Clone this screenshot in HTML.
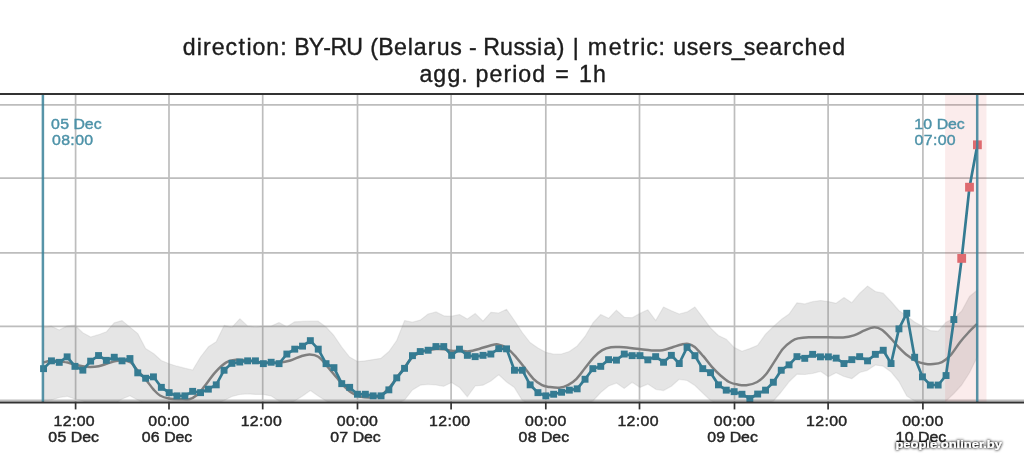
<!DOCTYPE html>
<html><head><meta charset="utf-8"><title>chart</title>
<style>html,body{margin:0;padding:0;background:#fff}body{width:1024px;height:466px;overflow:hidden}svg{display:block}text{font-family:"Liberation Sans",sans-serif}</style>
</head><body>
<svg width="1024" height="466" viewBox="0 0 1024 466">
<defs><clipPath id="ax"><rect x="0" y="94" width="1024" height="308.6"/></clipPath>
<filter id="glow" x="-10%" y="-60%" width="120%" height="220%"><feGaussianBlur in="SourceAlpha" stdDeviation="1.7" result="b"/><feComponentTransfer in="b" result="s"><feFuncA type="linear" slope="1.6"/></feComponentTransfer><feMerge><feMergeNode in="s"/><feMergeNode in="SourceGraphic"/></feMerge></filter></defs>
<rect width="1024" height="466" fill="#fff"/>
<g stroke="#bdbdbd" stroke-width="1.7" clip-path="url(#ax)">
<line x1="75.6" y1="94" x2="75.6" y2="402.6"/>
<line x1="169" y1="94" x2="169" y2="402.6"/>
<line x1="262.7" y1="94" x2="262.7" y2="402.6"/>
<line x1="357.5" y1="94" x2="357.5" y2="402.6"/>
<line x1="451.1" y1="94" x2="451.1" y2="402.6"/>
<line x1="545.8" y1="94" x2="545.8" y2="402.6"/>
<line x1="639.5" y1="94" x2="639.5" y2="402.6"/>
<line x1="734.5" y1="94" x2="734.5" y2="402.6"/>
<line x1="828.1" y1="94" x2="828.1" y2="402.6"/>
<line x1="922.9" y1="94" x2="922.9" y2="402.6"/>
<line x1="0" y1="104.8" x2="1024" y2="104.8"/>
<line x1="0" y1="178.2" x2="1024" y2="178.2"/>
<line x1="0" y1="252.8" x2="1024" y2="252.8"/>
<line x1="0" y1="326.4" x2="1024" y2="326.4"/>
<line x1="0" y1="400.3" x2="1024" y2="400.3"/>
</g>
<g clip-path="url(#ax)">
<polygon points="43.6,327.3 51.4,326.2 59.3,330 67.1,325.9 75,325.2 82.8,332.7 90.7,337 98.5,334.7 106.4,331.8 114.2,322.8 122.1,320.6 129.9,327.1 137.8,333.6 145.6,348.5 153.5,353.5 161.3,360.5 169.2,363.7 177,366.2 184.8,368.2 192.7,370 200.5,357 208.4,346.8 216.2,341.8 224.1,325.4 231.9,327.3 239.8,318.8 247.6,325.9 255.5,327.2 263.3,326.1 271.2,326.1 279,322.5 286.9,326.8 294.7,321.8 302.6,321.4 310.4,321.2 318.2,321.2 326.1,327 333.9,335.5 341.8,347.2 349.6,357 357.5,361.6 365.3,360.8 373.2,359.6 381,358.3 388.9,351.5 396.7,340.5 404.6,320.5 412.4,322.2 420.3,320.1 428.1,314 436,311.9 443.8,315.8 451.6,316.2 459.5,314.5 467.3,319 475.2,313.4 483,321.1 490.9,312.3 498.7,313 506.6,309.3 514.4,320.5 522.3,332.5 530.1,342.5 538,348 545.8,352.3 553.7,354.2 561.5,354 569.3,351.5 577.2,346 585,336.5 592.9,323 600.7,314.5 608.6,318.3 616.4,310.2 624.3,317.3 632.1,317.7 640,313.4 647.8,309.8 655.7,320.5 663.5,307 671.4,310.8 679.2,314 687.1,311.9 694.9,307 702.7,317.3 710.6,328 718.4,335.5 726.3,339.2 734.1,347.4 742,351.2 749.8,348.6 757.7,345.2 765.5,334.2 773.4,326.5 781.2,319.6 789.1,314 796.9,302.8 804.8,303.9 812.6,301.7 820.5,300.5 828.3,301.6 836.1,303.3 844,297.5 851.8,302.7 859.7,293.2 867.5,286.1 875.4,291.5 883.2,293.2 891.1,301.5 898.9,310.5 906.8,316 914.6,322 922.5,326.2 930.3,330.6 938.2,331.2 946,322.2 953.9,318.4 961.7,311 969.5,296.5 977.4,290 977.4,356.7 969.5,372.8 961.7,385 953.9,393.5 946,401 938.2,404 930.3,404 922.5,404 914.6,401 906.8,396 898.9,381.5 891.1,372 883.2,366.2 875.4,365 867.5,370.3 859.7,372.5 851.8,378.7 844,376.5 836.1,372.7 828.3,376.8 820.5,371.3 812.6,373.5 804.8,374.5 796.9,374.2 789.1,381.8 781.2,392 773.4,401 765.5,404 757.7,404 749.8,404 742,404 734.1,404 726.3,404 718.4,404 710.6,400.5 702.7,393 694.9,385.5 687.1,380.5 679.2,379.3 671.4,386.3 663.5,390.6 655.7,389.3 647.8,384.1 640,387.4 632.1,382.2 624.3,388.4 616.4,383.1 608.6,386 600.7,392.5 592.9,401 585,404 577.2,404 569.3,404 561.5,404 553.7,404 545.8,404 538,404 530.1,404 522.3,400.5 514.4,387.6 506.6,382 498.7,374.8 490.9,381 483,385.2 475.2,386 467.3,396.8 459.5,387.4 451.6,382.5 443.8,386.3 436,385 428.1,384.3 420.3,385.2 412.4,390 404.6,400 396.7,404 388.9,404 381,404 373.2,404 365.3,404 357.5,404 349.6,404 341.8,404 333.9,404 326.1,401 318.2,396 310.4,390.6 302.6,396 294.7,401 286.9,404 279,401 271.2,396 263.3,394.4 255.5,394.4 247.6,393.8 239.8,394.5 231.9,396.5 224.1,400.5 216.2,404 208.4,404 200.5,404 192.7,404 184.8,404 177,404 169.2,404 161.3,404 153.5,404 145.6,404 137.8,400 129.9,395.7 122.1,399 114.2,404 106.4,404 98.5,404 90.7,404 82.8,401 75,399 67.1,396.3 59.3,397.5 51.4,400 43.6,401" fill="#808080" fill-opacity="0.205" stroke="#9a9a9a" stroke-opacity="0.18" stroke-width="1.2" stroke-linejoin="round"/>
<rect x="945.1" y="94" width="41.4" height="308.6" fill="#d62728" fill-opacity="0.09"/>
<path d="M43.3,362.6 C44.7,362.2 48.7,360.6 51.5,360.4 C54.3,360.2 57.3,361.1 60,361.5 C62.7,361.9 65.1,362.1 67.6,362.6 C70.1,363.1 72.6,364.1 75.1,364.7 C77.6,365.3 80.1,365.8 82.6,366.2 C85.1,366.6 87.4,366.9 90.1,366.9 C92.8,366.9 95.8,366.8 98.7,366.2 C101.6,365.6 104.5,364.5 107.3,363.6 C110.1,362.8 112.9,361.6 115.8,361.1 C118.7,360.6 121.9,360.1 124.4,360.4 C126.9,360.6 128.8,361 130.9,362.6 C133.1,364.2 134.8,367.2 137.3,370.1 C139.8,373 143.2,376.5 145.9,379.7 C148.6,382.9 151.1,386.8 153.4,389.4 C155.8,392 157.4,394 160,395.5 C162.6,397 165.7,397.9 169,398.5 C172.3,399.1 176.6,399.1 180,399.2 C183.4,399.3 186.6,399.9 189.4,399.2 C192.2,398.5 194.5,397.1 197,395 C199.5,392.9 201.5,390.1 204.5,386.3 C207.5,382.5 211.6,376.2 215.2,372.3 C218.8,368.4 222.3,364.7 225.9,362.6 C229.5,360.5 233.1,360.2 236.7,359.8 C240.3,359.4 243.1,360 247.4,360.5 C251.7,361 257.1,362.2 262.5,362.6 C267.9,363 275.1,363 279.7,362.6 C284.3,362.2 286.8,361.6 290.4,360.5 C294,359.4 298,357.2 301.2,356.2 C304.4,355.2 306.8,354.4 309.7,354.5 C312.6,354.6 315.4,354.9 318.3,356.8 C321.2,358.7 323.7,362.2 326.9,365.9 C330.1,369.6 334.7,375.3 337.7,378.8 C340.7,382.3 342.6,384.6 345,387 C347.4,389.4 349.5,391.4 352,393 C354.5,394.6 357,395.8 360,396.5 C363,397.2 366.7,397.6 370,397.5 C373.3,397.4 377,397.4 380,396 C383,394.6 385.2,392 388,389 C390.8,386 393.8,381.6 396.5,378 C399.2,374.4 401.8,370.9 404.4,367.5 C407,364.1 409.6,360 412.2,357.5 C414.8,355 417.4,353.7 420,352.5 C422.6,351.3 425.3,350.9 428,350.3 C430.7,349.7 433.3,349.2 436,349 C438.7,348.8 441.5,348.9 444,349.2 C446.5,349.5 448.3,350.5 451,350.8 C453.7,351.1 457.3,350.7 460.3,350.8 C463.3,350.9 465.8,351.7 469,351.3 C472.2,350.9 476.1,349.7 479.7,348.7 C483.3,347.7 487.3,346.2 490.4,345.5 C493.4,344.8 495.1,343.9 498,344.4 C500.9,344.9 504.6,346.5 507.6,348.7 C510.6,350.9 513.3,354.1 516.2,357.3 C519.1,360.5 521.9,364.4 524.8,368 C527.7,371.6 530.5,375.9 533.4,378.8 C536.3,381.7 539.5,383.9 542,385.2 C544.5,386.5 545.7,386.5 548.6,386.9 C551.5,387.3 556.1,388.1 559.3,387.8 C562.5,387.5 565,386.7 567.9,385.2 C570.8,383.7 573.6,381.7 576.5,378.8 C579.4,375.9 582.2,371.6 585.1,368 C588,364.4 590.8,360.3 593.7,357.3 C596.6,354.3 599.4,351.9 602.3,350.2 C605.2,348.5 608,347.7 610.9,347.2 C613.8,346.7 616.3,346.9 619.5,347 C622.7,347.1 626.9,347.6 630.2,348 C633.5,348.4 635.9,348.7 639.5,349.1 C643.1,349.5 647.9,350.2 651.7,350.4 C655.5,350.6 658.9,350.8 662.5,350.2 C666.1,349.6 670,348 673.2,347 C676.4,346 679.3,344.9 681.8,344.4 C684.3,343.9 686.1,343.5 688.3,343.9 C690.4,344.3 692.2,344.9 694.7,347 C697.2,349.1 700.4,352.9 703.3,356.2 C706.2,359.5 709,363.7 711.9,366.9 C714.8,370.1 717.6,373 720.5,375.5 C723.4,378 726.2,380.5 729.1,382 C732,383.5 734.8,384.1 737.7,384.6 C740.6,385.1 743,385.6 746.3,385.2 C749.5,384.8 754,383.8 757.2,382 C760.5,380.2 762.9,377.9 765.8,374.5 C768.7,371.1 771.5,365.9 774.4,361.6 C777.3,357.3 780.1,352.1 783,348.7 C785.9,345.3 789.1,342.9 791.6,341.2 C794.1,339.5 795.1,339 798,338.4 C800.9,337.8 803.8,337.5 808.8,337.3 C813.8,337.1 822.4,337.3 828.1,337.3 C833.8,337.3 838.8,337.8 843.1,337.5 C847.4,337.2 850.3,336.6 853.9,335.4 C857.5,334.2 861.2,331.8 864.6,330.4 C868,329 871.4,327.3 874.3,327.2 C877.2,327.1 879.1,328 881.8,329.8 C884.5,331.6 887.5,334.9 890.4,337.9 C893.3,340.9 896.1,344.7 899,347.6 C901.9,350.6 904.7,353.4 907.6,355.6 C910.5,357.9 913.3,359.8 916.2,361.1 C919.1,362.5 921.9,363.2 924.8,363.7 C927.7,364.2 930.5,364.4 933.4,364.1 C936.3,363.9 939.1,363.7 942,362.2 C944.9,360.7 947.6,358.4 950.6,355.1 C953.6,351.8 957.1,345.9 960,342.2 C962.9,338.5 965.2,336 968,333 C970.8,330 975.5,325.5 977,324" fill="none" stroke="#7f7f7f" stroke-width="2.5" stroke-linejoin="round" stroke-linecap="butt"/>
<polyline points="43.6,368.6 51.4,360.8 59.3,362.4 67.1,356.9 75,366.4 82.8,370.1 90.7,361.1 98.5,355.5 106.4,360.4 114.2,357.2 122.1,360.9 129.9,358.5 137.8,372.9 145.6,378.2 153.5,376.8 161.3,387.3 169.2,392.7 177,395.9 184.8,395.9 192.7,391.4 200.5,392.7 208.4,389.1 216.2,384.8 224.1,370.2 231.9,363.3 239.8,362 247.6,360.9 255.5,360.9 263.3,363.7 271.2,362.2 279,363.7 286.9,354 294.7,349.1 302.6,346.1 310.4,340.7 318.2,349.1 326.1,363.7 333.9,367.6 341.8,383.7 349.6,387.4 357.5,394.2 365.3,394.2 373.2,395.9 381,395.9 388.9,389.9 396.7,377.9 404.6,368.4 412.4,355.6 420.3,351.5 428.1,350.2 436,346.5 443.8,346.5 451.6,355.3 459.5,349.1 467.3,355.3 475.2,356.6 483,355.3 490.9,354 498.7,348.7 506.6,348.9 514.4,370.2 522.3,370.2 530.1,384.8 538,392.7 545.8,395.9 553.7,394.2 561.5,392.2 569.3,390.1 577.2,388.9 585,379.2 592.9,368.7 600.7,366.3 608.6,359.6 616.4,360.1 624.3,354 632.1,355.6 640,355.6 647.8,359.8 655.7,356.6 663.5,362.2 671.4,355.3 679.2,363.5 687.1,347.4 694.9,355.6 702.7,368.7 710.6,372.7 718.4,384.8 726.3,390.1 734.1,391.7 742,394.2 749.8,398.5 757.7,394 765.5,390.1 773.4,382.2 781.2,370.2 789.1,364.8 796.9,356.6 804.8,358.3 812.6,354.3 820.5,356.8 828.3,356.8 836.1,358.1 844,363.5 851.8,359.6 859.7,356.6 867.5,360.9 875.4,354.3 883.2,350.2 891.1,363.5 898.9,328.9 906.8,313.2 914.6,357.2 922.5,376.9 930.3,385 938.2,385 946,375.5 953.9,319.5 961.7,258.4 969.5,187.2 977.4,144.8" fill="none" stroke="#357b92" stroke-width="2.7" stroke-linejoin="round"/>
<g fill="#357b92">
<rect x="40.1" y="365.2" width="6.9" height="6.9"/>
<rect x="48" y="357.4" width="6.9" height="6.9"/>
<rect x="55.8" y="358.9" width="6.9" height="6.9"/>
<rect x="63.7" y="353.4" width="6.9" height="6.9"/>
<rect x="71.5" y="362.9" width="6.9" height="6.9"/>
<rect x="79.4" y="366.7" width="6.9" height="6.9"/>
<rect x="87.2" y="357.7" width="6.9" height="6.9"/>
<rect x="95.1" y="352.1" width="6.9" height="6.9"/>
<rect x="102.9" y="356.9" width="6.9" height="6.9"/>
<rect x="110.8" y="353.8" width="6.9" height="6.9"/>
<rect x="118.6" y="357.4" width="6.9" height="6.9"/>
<rect x="126.5" y="355.1" width="6.9" height="6.9"/>
<rect x="134.3" y="369.4" width="6.9" height="6.9"/>
<rect x="142.2" y="374.8" width="6.9" height="6.9"/>
<rect x="150" y="373.4" width="6.9" height="6.9"/>
<rect x="157.9" y="383.9" width="6.9" height="6.9"/>
<rect x="165.7" y="389.2" width="6.9" height="6.9"/>
<rect x="173.5" y="392.4" width="6.9" height="6.9"/>
<rect x="181.4" y="392.4" width="6.9" height="6.9"/>
<rect x="189.2" y="387.9" width="6.9" height="6.9"/>
<rect x="197.1" y="389.2" width="6.9" height="6.9"/>
<rect x="204.9" y="385.7" width="6.9" height="6.9"/>
<rect x="212.8" y="381.4" width="6.9" height="6.9"/>
<rect x="220.6" y="366.8" width="6.9" height="6.9"/>
<rect x="228.5" y="359.9" width="6.9" height="6.9"/>
<rect x="236.3" y="358.6" width="6.9" height="6.9"/>
<rect x="244.2" y="357.4" width="6.9" height="6.9"/>
<rect x="252" y="357.4" width="6.9" height="6.9"/>
<rect x="259.9" y="360.2" width="6.9" height="6.9"/>
<rect x="267.7" y="358.8" width="6.9" height="6.9"/>
<rect x="275.6" y="360.2" width="6.9" height="6.9"/>
<rect x="283.4" y="350.6" width="6.9" height="6.9"/>
<rect x="291.3" y="345.7" width="6.9" height="6.9"/>
<rect x="299.1" y="342.7" width="6.9" height="6.9"/>
<rect x="306.9" y="337.2" width="6.9" height="6.9"/>
<rect x="314.8" y="345.7" width="6.9" height="6.9"/>
<rect x="322.6" y="360.2" width="6.9" height="6.9"/>
<rect x="330.5" y="364.2" width="6.9" height="6.9"/>
<rect x="338.3" y="380.2" width="6.9" height="6.9"/>
<rect x="346.2" y="383.9" width="6.9" height="6.9"/>
<rect x="354" y="390.8" width="6.9" height="6.9"/>
<rect x="361.9" y="390.8" width="6.9" height="6.9"/>
<rect x="369.7" y="392.4" width="6.9" height="6.9"/>
<rect x="377.6" y="392.4" width="6.9" height="6.9"/>
<rect x="385.4" y="386.4" width="6.9" height="6.9"/>
<rect x="393.3" y="374.4" width="6.9" height="6.9"/>
<rect x="401.1" y="364.9" width="6.9" height="6.9"/>
<rect x="409" y="352.2" width="6.9" height="6.9"/>
<rect x="416.8" y="348.1" width="6.9" height="6.9"/>
<rect x="424.7" y="346.8" width="6.9" height="6.9"/>
<rect x="432.5" y="343.1" width="6.9" height="6.9"/>
<rect x="440.3" y="343.1" width="6.9" height="6.9"/>
<rect x="448.2" y="351.9" width="6.9" height="6.9"/>
<rect x="456" y="345.7" width="6.9" height="6.9"/>
<rect x="463.9" y="351.9" width="6.9" height="6.9"/>
<rect x="471.7" y="353.2" width="6.9" height="6.9"/>
<rect x="479.6" y="351.9" width="6.9" height="6.9"/>
<rect x="487.4" y="350.6" width="6.9" height="6.9"/>
<rect x="495.3" y="345.2" width="6.9" height="6.9"/>
<rect x="503.1" y="345.4" width="6.9" height="6.9"/>
<rect x="511" y="366.8" width="6.9" height="6.9"/>
<rect x="518.8" y="366.8" width="6.9" height="6.9"/>
<rect x="526.7" y="381.4" width="6.9" height="6.9"/>
<rect x="534.5" y="389.2" width="6.9" height="6.9"/>
<rect x="542.4" y="392.4" width="6.9" height="6.9"/>
<rect x="550.2" y="390.8" width="6.9" height="6.9"/>
<rect x="558.1" y="388.8" width="6.9" height="6.9"/>
<rect x="565.9" y="386.7" width="6.9" height="6.9"/>
<rect x="573.7" y="385.4" width="6.9" height="6.9"/>
<rect x="581.6" y="375.8" width="6.9" height="6.9"/>
<rect x="589.4" y="365.2" width="6.9" height="6.9"/>
<rect x="597.3" y="362.9" width="6.9" height="6.9"/>
<rect x="605.1" y="356.2" width="6.9" height="6.9"/>
<rect x="613" y="356.7" width="6.9" height="6.9"/>
<rect x="620.8" y="350.6" width="6.9" height="6.9"/>
<rect x="628.7" y="352.2" width="6.9" height="6.9"/>
<rect x="636.5" y="352.2" width="6.9" height="6.9"/>
<rect x="644.4" y="356.4" width="6.9" height="6.9"/>
<rect x="652.2" y="353.2" width="6.9" height="6.9"/>
<rect x="660.1" y="358.8" width="6.9" height="6.9"/>
<rect x="667.9" y="351.9" width="6.9" height="6.9"/>
<rect x="675.8" y="360.1" width="6.9" height="6.9"/>
<rect x="683.6" y="343.9" width="6.9" height="6.9"/>
<rect x="691.5" y="352.2" width="6.9" height="6.9"/>
<rect x="699.3" y="365.2" width="6.9" height="6.9"/>
<rect x="707.1" y="369.2" width="6.9" height="6.9"/>
<rect x="715" y="381.4" width="6.9" height="6.9"/>
<rect x="722.8" y="386.7" width="6.9" height="6.9"/>
<rect x="730.7" y="388.2" width="6.9" height="6.9"/>
<rect x="738.5" y="390.8" width="6.9" height="6.9"/>
<rect x="746.4" y="395.1" width="6.9" height="6.9"/>
<rect x="754.2" y="390.6" width="6.9" height="6.9"/>
<rect x="762.1" y="386.7" width="6.9" height="6.9"/>
<rect x="769.9" y="378.8" width="6.9" height="6.9"/>
<rect x="777.8" y="366.8" width="6.9" height="6.9"/>
<rect x="785.6" y="361.4" width="6.9" height="6.9"/>
<rect x="793.5" y="353.2" width="6.9" height="6.9"/>
<rect x="801.3" y="354.9" width="6.9" height="6.9"/>
<rect x="809.2" y="350.9" width="6.9" height="6.9"/>
<rect x="817" y="353.4" width="6.9" height="6.9"/>
<rect x="824.9" y="353.4" width="6.9" height="6.9"/>
<rect x="832.7" y="354.7" width="6.9" height="6.9"/>
<rect x="840.5" y="360.1" width="6.9" height="6.9"/>
<rect x="848.4" y="356.2" width="6.9" height="6.9"/>
<rect x="856.2" y="353.2" width="6.9" height="6.9"/>
<rect x="864.1" y="357.4" width="6.9" height="6.9"/>
<rect x="871.9" y="350.9" width="6.9" height="6.9"/>
<rect x="879.8" y="346.8" width="6.9" height="6.9"/>
<rect x="887.6" y="360.1" width="6.9" height="6.9"/>
<rect x="895.5" y="325.4" width="6.9" height="6.9"/>
<rect x="903.3" y="309.8" width="6.9" height="6.9"/>
<rect x="911.2" y="353.8" width="6.9" height="6.9"/>
<rect x="919" y="373.4" width="6.9" height="6.9"/>
<rect x="926.9" y="381.6" width="6.9" height="6.9"/>
<rect x="934.7" y="381.6" width="6.9" height="6.9"/>
<rect x="942.6" y="372.1" width="6.9" height="6.9"/>
<rect x="950.4" y="316.1" width="6.9" height="6.9"/>
</g>
<g fill="#de6a6f">
<rect x="957.3" y="254" width="8.8" height="8.8"/>
<rect x="965.1" y="182.8" width="8.8" height="8.8"/>
<rect x="973" y="140.4" width="8.8" height="8.8"/>
</g>
<line x1="42.9" y1="94" x2="42.9" y2="402.6" stroke="#3a8199" stroke-opacity="0.85" stroke-width="2.5"/>
<line x1="977.2" y1="94" x2="977.2" y2="402.6" stroke="#3a8199" stroke-opacity="0.85" stroke-width="2.5"/>
</g>
<line x1="0" y1="94" x2="1024" y2="94" stroke="#333" stroke-width="2"/>
<line x1="0" y1="402.6" x2="1024" y2="402.6" stroke="#333" stroke-width="2"/>
<g stroke="#333" stroke-width="1.7">
<line x1="75.6" y1="402.6" x2="75.6" y2="409.4"/>
<line x1="169" y1="402.6" x2="169" y2="409.4"/>
<line x1="262.7" y1="402.6" x2="262.7" y2="409.4"/>
<line x1="357.5" y1="402.6" x2="357.5" y2="409.4"/>
<line x1="451.1" y1="402.6" x2="451.1" y2="409.4"/>
<line x1="545.8" y1="402.6" x2="545.8" y2="409.4"/>
<line x1="639.5" y1="402.6" x2="639.5" y2="409.4"/>
<line x1="734.5" y1="402.6" x2="734.5" y2="409.4"/>
<line x1="828.1" y1="402.6" x2="828.1" y2="409.4"/>
<line x1="922.9" y1="402.6" x2="922.9" y2="409.4"/>
</g>
<g fill="#262626" stroke="#262626" stroke-width="0.45" opacity="0.999">
<text x="49.61 58.08 66.61 71.04 79.52" y="425.9" font-size="14.7" transform="scale(1.08,1)">12:00</text>
<text x="44.74 53.22 61.62 65.60 76.06 84.24" y="441.9" font-size="14.7" transform="scale(1.08,1)">05 Dec</text>
<text x="137.34 145.81 154.34 158.77 167.24" y="425.9" font-size="14.7" transform="scale(1.08,1)">00:00</text>
<text x="131.23 139.70 148.10 152.08 162.55 170.72" y="441.9" font-size="14.7" transform="scale(1.08,1)">06 Dec</text>
<text x="222.85 231.32 239.85 244.28 252.76" y="425.9" font-size="14.7" transform="scale(1.08,1)">12:00</text>
<text x="311.87 320.35 328.88 333.31 341.78" y="425.9" font-size="14.7" transform="scale(1.08,1)">00:00</text>
<text x="305.76 314.24 322.64 326.62 337.08 345.26" y="441.9" font-size="14.7" transform="scale(1.08,1)">07 Dec</text>
<text x="397.29 405.77 414.30 418.73 427.20" y="425.9" font-size="14.7" transform="scale(1.08,1)">12:00</text>
<text x="486.23 494.70 503.23 507.66 516.13" y="425.9" font-size="14.7" transform="scale(1.08,1)">00:00</text>
<text x="480.12 488.59 496.99 500.97 511.43 519.61" y="441.9" font-size="14.7" transform="scale(1.08,1)">08 Dec</text>
<text x="571.74 580.21 588.74 593.17 601.64" y="425.9" font-size="14.7" transform="scale(1.08,1)">12:00</text>
<text x="660.95 669.42 677.95 682.38 690.86" y="425.9" font-size="14.7" transform="scale(1.08,1)">00:00</text>
<text x="654.84 663.31 671.71 675.70 686.16 694.34" y="441.9" font-size="14.7" transform="scale(1.08,1)">09 Dec</text>
<text x="746.37 754.84 763.37 767.80 776.27" y="425.9" font-size="14.7" transform="scale(1.08,1)">12:00</text>
<text x="835.39 843.87 852.40 856.83 865.30" y="425.9" font-size="14.7" transform="scale(1.08,1)">00:00</text>
<text x="829.24 837.71 846.11 850.10 860.56 868.74" y="441.9" font-size="14.7" transform="scale(1.08,1)">10 Dec</text>
</g>
<g fill="#1c1c1c" stroke="#1c1c1c" stroke-width="0.4" opacity="0.999">
<text x="193.32 208.14 214.88 224.19 238.55 252.34 260.88 267.24 281.87 296.69 304.37 311.38 326.60 342.07 349.67 366.43 384.20 391.84 400.37 417.01 431.59 437.96 452.72 462.26 476.52 489.10 496.39 505.02 511.47 529.10 543.35 555.60 568.39 574.77 589.28 598.26 606.16 613.63 622.00 644.06 659.29 668.05 677.50 683.82 696.95 704.64 712.40 726.66 739.32 754.11 763.01 774.32 787.01 799.66 814.08 828.84 838.07 851.28 865.95 880.63" y="54.8" font-size="24.5" transform="scale(0.945,1)">direction: BY-RU (Belarus - Russia) | metric: users_searched</text>
<text x="443.84 458.50 473.42 488.02 495.48 503.26 517.94 532.73 542.17 548.54 563.18 577.78 587.60 604.93 612.72 627.64" y="82.2" font-size="24.5" transform="scale(0.945,1)">agg. period = 1h</text>
</g>
<g fill="#4d92a8" stroke="#4d92a8" stroke-width="0.4" opacity="0.999">
<text x="47.24 55.72 64.12 68.10 78.56 86.74" y="129.3" font-size="14.7" transform="scale(1.08,1)">05 Dec</text>
<text x="48.17 56.64 65.17 69.61 78.08" y="145.4" font-size="14.7" transform="scale(1.08,1)">08:00</text>
<text x="846.46 854.93 863.34 867.32 877.78 885.96" y="129.3" font-size="14.7" transform="scale(1.08,1)">10 Dec</text>
<text x="846.78 855.25 863.79 868.22 876.69" y="145.4" font-size="14.7" transform="scale(1.08,1)">07:00</text>
</g>
<text x="895.4" y="448.2" font-size="11.6" font-weight="bold" fill="#fff" textLength="106.6" lengthAdjust="spacingAndGlyphs" filter="url(#glow)">people.onliner.by</text>
</svg></body></html>
